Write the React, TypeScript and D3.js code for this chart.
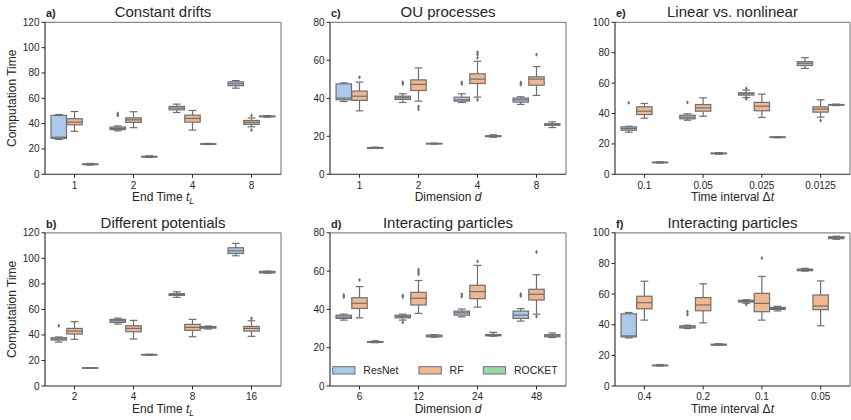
import React from "react";
import * as d3 from "d3";

const models = ["ResNet", "RF", "ROCKET"];
const modelColors = ["#abc9ea", "#efb792", "#98daa7"];
const lineGray = "#6f6f6f";

// Box stats per category: [whiskerLow, q1, median, q3, whiskerHigh]
// Panel a) Constant drifts
const aCats = ["1", "2", "4", "8"];
const aResNet = [[27.5, 28.3, 29.3, 46.5, 47.2], [34.3, 35.3, 36.2, 37.3, 38.2], [48.8, 50.9, 52.3, 53.6, 55.4], [68, 69.9, 71.4, 73, 74]];
const aRF = [[33.9, 39.1, 41.2, 43.9, 49.6], [36.8, 41, 43, 44.6, 49.4], [34.9, 41.2, 44.1, 46.7, 50.4], [37.5, 39.4, 41, 42.5, 44.5]];
const aROCKET = [[7.3, 7.6, 7.9, 8.2, 8.6], [13.3, 13.6, 13.9, 14.2, 14.6], [23.5, 23.7, 23.9, 24.1, 24.4], [45.1, 45.4, 45.7, 46, 46.3]];
const aResNetOut = [[], [46.5, 48], [], []];
const aRFOut = [[], [], [], [46.5, 35]];
const aROCKETOut = [[], [], [], []];

// Panel c) OU processes
const cCats = ["1", "2", "4", "8"];
const cResNet = [[38.3, 39.2, 40.1, 47.6, 48.1], [37.8, 39.4, 40.3, 41.1, 42.4], [37.8, 38.5, 39.2, 40.6, 42.4], [36.8, 38, 39.2, 40.1, 40.8]];
const cRF = [[33.4, 38.9, 41.1, 43.8, 48.5], [38.5, 44.1, 47.3, 49.7, 56], [40.6, 47.8, 50.1, 52.9, 59.5], [41.5, 46.9, 50.1, 51.3, 56.7]];
const cROCKET = [[13.6, 13.7, 13.9, 14.1, 14.3], [15.9, 16, 16.1, 16.3, 16.4], [19.5, 19.8, 20, 20.3, 20.8], [24.6, 25.8, 26.2, 26.6, 27.6]];
const cResNetOut = [[], [47.5, 48.5], [47.5, 48.3], [47.3, 48.3]];
const cRFOut = [[51.1], [35.7, 34.3], [64.2, 63, 61.3, 39.2], [63]];
const cROCKETOut = [[], [], [], []];

// Panel e) Linear vs. nonlinear
const eCats = ["0.1", "0.05", "0.025", "0.0125"];
const eResNet = [[27.7, 29, 30.1, 31.2, 31.6], [35.6, 36.5, 37.6, 38.9, 39.8], [50.5, 52.1, 53, 53.6, 55.4], [69.7, 71.6, 73, 74.1, 76.7]];
const eRF = [[36.9, 39.3, 41.5, 44.4, 46.6], [38.2, 41.5, 43.7, 45.9, 50.3], [37.4, 41.8, 44.8, 47.3, 52.7], [37.6, 40.9, 42.9, 44.4, 49]];
const eROCKET = [[7.4, 7.6, 7.8, 8, 8.2], [13.2, 13.5, 13.7, 14, 14.3], [24, 24.2, 24.4, 24.6, 24.8], [45.2, 45.5, 45.7, 45.9, 46.2]];
const eResNetOut = [[47], [47.3], [56.5, 49.7], []];
const eRFOut = [[], [], [], [35.4]];
const eROCKETOut = [[], [], [], []];

// Panel b) Different potentials
const bCats = ["2", "4", "8", "16"];
const bResNet = [[34.4, 36, 36.8, 37.8, 38.4], [48.5, 49.8, 51.1, 52.2, 53.2], [69.4, 71, 71.7, 72.3, 73.8], [102, 103.8, 105.9, 108.3, 111.7]];
const bRF = [[36.5, 40.7, 43, 45.1, 50.4], [36.8, 42.5, 45.1, 47.2, 51.4], [38.6, 43.6, 45.9, 48.3, 52.2], [38.9, 43, 45.1, 46.7, 51.1]];
const bROCKET = [[13.8, 13.9, 14.1, 14.3, 14.4], [24.1, 24.3, 24.5, 24.7, 24.9], [44.6, 45.3, 45.9, 46.5, 47], [88.3, 88.6, 89.2, 89.8, 90]];
const bResNetOut = [[47.2], [], [], []];
const bRFOut = [[], [], [], [53]];
const bROCKETOut = [[], [], [], []];

// Panel d) Interacting particles (dimension)
const dCats = ["6", "12", "24", "48"];
const dResNet = [[34.4, 35.3, 36, 37, 37.5], [34.4, 35.6, 36.3, 37, 37.5], [36.1, 37, 38.2, 39.1, 40.2], [33.9, 35.3, 37, 39.1, 40.4]];
const dRF = [[35.6, 40.5, 43.2, 46.1, 51.9], [37.9, 42.3, 45.8, 48.9, 55.1], [41.2, 45.6, 49.3, 52.6, 63], [37.5, 44.9, 47.9, 50.5, 58.1]];
const dROCKET = [[22.6, 22.8, 23, 23.2, 23.6], [25.5, 25.7, 26.1, 26.6, 26.8], [26, 26.2, 26.5, 26.9, 28], [25.3, 25.7, 26.2, 26.8, 27.7]];
const dResNetOut = [[46.5, 47.5], [46.5, 47.3, 33.2], [46.7, 47.9], [47.9, 47]];
const dRFOut = [[55.4], [60.7, 59.5, 58.4], [65.1], [70, 36.3]];
const dROCKETOut = [[], [], [], []];

// Panel f) Interacting particles (time interval)
const fCats = ["0.4", "0.2", "0.1", "0.05"];
const fResNet = [[31.4, 32, 32.7, 47.1, 48], [37.5, 37.9, 38.6, 39.3, 39.7], [54, 54.8, 55.3, 55.9, 56.3], [75, 75.3, 75.9, 76.3, 76.8]];
const fRF = [[43, 50.4, 54.4, 58.6, 68.4], [41.2, 49.1, 52.9, 57.7, 66.7], [43, 48.5, 53.9, 60.5, 71.5], [39.3, 49.8, 52.2, 59.4, 68.6]];
const fROCKET = [[13, 13.2, 13.4, 13.6, 14], [26.5, 26.7, 27, 27.3, 27.6], [49, 50, 50.6, 51.3, 52], [95.8, 96.2, 96.9, 97.4, 97.8]];
const fResNetOut = [[], [48.5, 46.7], [53.2], []];
const fRFOut = [[], [], [83.5], []];
const fROCKETOut = [[], [], [], []];

const font = "'Liberation Sans', Arial, sans-serif";

type Panel = {
  key: string;
  title: string;
  cats: string[];
  stats: number[][][];
  outs: number[][][];
  yMax: number;
  col: number;
  row: number;
  xLabel: React.ReactNode;
  yLabel: boolean;
  legend: boolean;
};

const endTime = (
  <>
    End Time <tspan fontStyle="italic">t</tspan>
    <tspan fontStyle="italic" fontSize={8.4} dy={3}>L</tspan>
  </>
);
const dimension = (
  <>
    Dimension <tspan fontStyle="italic">d</tspan>
  </>
);
const timeInterval = (
  <>
    Time interval Δ<tspan fontStyle="italic">t</tspan>
  </>
);

const panels: Panel[] = [
  { key: "a)", title: "Constant drifts", cats: aCats, stats: [aResNet, aRF, aROCKET], outs: [aResNetOut, aRFOut, aROCKETOut], yMax: 120, col: 0, row: 0, xLabel: endTime, yLabel: true, legend: false },
  { key: "c)", title: "OU processes", cats: cCats, stats: [cResNet, cRF, cROCKET], outs: [cResNetOut, cRFOut, cROCKETOut], yMax: 80, col: 1, row: 0, xLabel: dimension, yLabel: false, legend: false },
  { key: "e)", title: "Linear vs. nonlinear", cats: eCats, stats: [eResNet, eRF, eROCKET], outs: [eResNetOut, eRFOut, eROCKETOut], yMax: 100, col: 2, row: 0, xLabel: timeInterval, yLabel: false, legend: false },
  { key: "b)", title: "Different potentials", cats: bCats, stats: [bResNet, bRF, bROCKET], outs: [bResNetOut, bRFOut, bROCKETOut], yMax: 120, col: 0, row: 1, xLabel: endTime, yLabel: true, legend: false },
  { key: "d)", title: "Interacting particles", cats: dCats, stats: [dResNet, dRF, dROCKET], outs: [dResNetOut, dRFOut, dROCKETOut], yMax: 80, col: 1, row: 1, xLabel: dimension, yLabel: false, legend: true },
  { key: "f)", title: "Interacting particles", cats: fCats, stats: [fResNet, fRF, fROCKET], outs: [fResNetOut, fRFOut, fROCKETOut], yMax: 100, col: 2, row: 1, xLabel: timeInterval, yLabel: false, legend: false },
];

const cols = [[45, 281], [330, 566], [615, 850]];
const rows = [[22.3, 174.3], [232.8, 386]];

function PanelView({ p }: { p: Panel }) {
  const [x0, x1] = cols[p.col];
  const [y0, y1] = rows[p.row];
  const x = d3.scaleBand<string>().domain(p.cats).range([x0, x1]).padding(0);
  const y = d3.scaleLinear().domain([0, p.yMax]).range([y1, y0]);
  const bw = x.bandwidth();
  const hueW = (bw * 0.8) / models.length;
  const boxW = hueW * 0.98;
  const ticks = d3.range(0, p.yMax + 1, 20);
  const diamond = (cx: number, cy: number) =>
    `M${cx},${cy - 2.2}L${cx + 1.4},${cy}L${cx},${cy + 2.2}L${cx - 1.4},${cy}Z`;

  return (
    <g>
      {p.cats.map((c, j) =>
        models.map((m, i) => {
          const s = p.stats[i][j];
          const [wl, q1, med, q3, wh] = s;
          const cx = (x(c) as number) + bw / 2 + (i - 1) * hueW;
          const capW = boxW * 0.5;
          return (
            <g key={c + m}>
              <line x1={cx} x2={cx} y1={y(wl)} y2={y(q1)} stroke={lineGray} strokeWidth={1.2} />
              <line x1={cx} x2={cx} y1={y(q3)} y2={y(wh)} stroke={lineGray} strokeWidth={1.2} />
              <line x1={cx - capW / 2} x2={cx + capW / 2} y1={y(wl)} y2={y(wl)} stroke={lineGray} strokeWidth={1.2} />
              <line x1={cx - capW / 2} x2={cx + capW / 2} y1={y(wh)} y2={y(wh)} stroke={lineGray} strokeWidth={1.2} />
              <rect x={cx - boxW / 2} width={boxW} y={y(q3)} height={Math.max(0.5, y(q1) - y(q3))} fill={modelColors[i]} stroke={lineGray} strokeWidth={1.2} />
              <line x1={cx - boxW / 2} x2={cx + boxW / 2} y1={y(med)} y2={y(med)} stroke={lineGray} strokeWidth={1.2} />
              {p.outs[i][j].map((v, k) => (
                <path key={k} d={diamond(cx, y(v))} fill={lineGray} />
              ))}
            </g>
          );
        })
      )}
      {/* spines */}
      <line x1={x0} x2={x1} y1={y0} y2={y0} stroke="#8a8a8a" strokeWidth={1.25} />
      <line x1={x1} x2={x1} y1={y0} y2={y1} stroke="#8a8a8a" strokeWidth={1.25} />
      <line x1={x0} x2={x0} y1={y0} y2={y1} stroke="#262626" strokeWidth={1.1} />
      <line x1={x0} x2={x1} y1={y1} y2={y1} stroke="#262626" strokeWidth={1.1} />
      {/* y ticks */}
      {ticks.map((t) => (
        <g key={t}>
          <line x1={x0 - 3.5} x2={x0} y1={y(t)} y2={y(t)} stroke="#262626" strokeWidth={1} />
          <text x={x0 - 5.5} y={y(t)} dy="0.35em" textAnchor="end" fontSize={10} fill="#262626" fontFamily={font}>{t}</text>
        </g>
      ))}
      {/* x ticks */}
      {p.cats.map((c) => {
        const cx = (x(c) as number) + bw / 2;
        return (
          <g key={c}>
            <line x1={cx} x2={cx} y1={y1} y2={y1 + 3.5} stroke="#262626" strokeWidth={1} />
            <text x={cx} y={y1 + 14.2} textAnchor="middle" fontSize={10} fill="#262626" fontFamily={font}>{c}</text>
          </g>
        );
      })}
      <text x={(x0 + x1) / 2} y={y1 + 27} textAnchor="middle" fontSize={12} fill="#262626" fontFamily={font}>{p.xLabel}</text>
      {p.yLabel && (
        <text transform={`translate(16,${(y0 + y1) / 2}) rotate(-90)`} textAnchor="middle" fontSize={12} fill="#262626" fontFamily={font}>Computation Time</text>
      )}
      <text x={(x0 + x1) / 2} y={y0 - 5} textAnchor="middle" fontSize={15} fill="#262626" fontFamily={font}>{p.title}</text>
      <text x={x0 + 1} y={y0 - 5} fontSize={11} fontWeight="bold" fill="#262626" fontFamily={font}>{p.key}</text>
      {p.legend && (
        <g>
          {models.map((m, i) => {
            const lx = [x0 + 2.7, x0 + 89, x0 + 153.3][i];
            return (
              <g key={m}>
                <rect x={lx} y={366.7} width={22.3} height={7.3} fill={modelColors[i]} stroke={lineGray} strokeWidth={1} />
                <text x={lx + 30.6} y={374} fontSize={10.5} fill="#262626" fontFamily={font}>{m}</text>
              </g>
            );
          })}
        </g>
      )}
    </g>
  );
}

export default function App() {
  return (
    <svg width={851} height={420} style={{ position: "absolute", left: 0, top: 0, background: "#fff" }}>
      <rect width={851} height={420} fill="#fff" />
      {panels.map((p) => (
        <PanelView key={p.key} p={p} />
      ))}
    </svg>
  );
}
